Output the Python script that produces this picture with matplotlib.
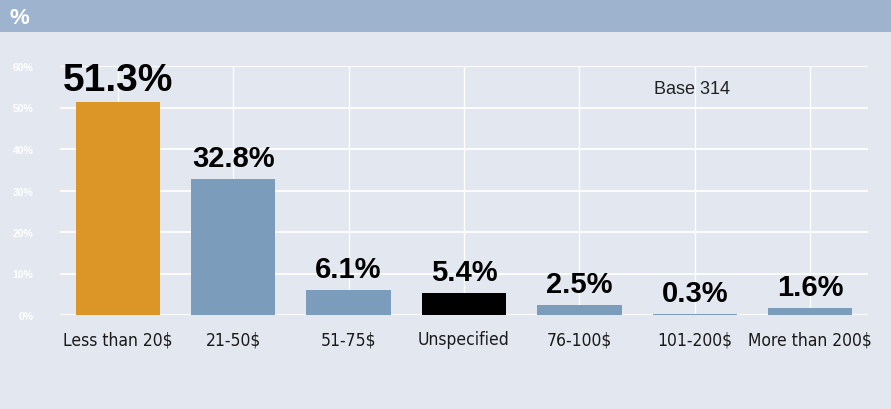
import matplotlib
matplotlib.use("Agg")
import matplotlib.pyplot as plt
import matplotlib.transforms as mtransforms

categories = ["Less than 20$", "21-50$", "51-75$", "Unspecified", "76-100$", "101-200$", "More than 200$"]
values = [51.3, 32.8, 6.1, 5.4, 2.5, 0.3, 1.6]
colors = ["#dc9527", "#7b9cbb", "#7b9cbb", "#000000", "#7b9cbb", "#7b9cbb", "#7b9cbb"]
yticks = [0, 10, 20, 30, 40, 50, 60]
base_text = "Base 314"

fig = plt.figure(figsize=(8.91, 4.10), dpi=100)
fig.patch.set_facecolor("#e3e8f0")
# header band
fig.patches.append(plt.Rectangle((0, 1 - 33/410), 1, 33/410, transform=fig.transFigure,
                                 facecolor="#9db3ce", edgecolor="none", zorder=0))
fig.text(10/891, 1 - 19/410, "%", color="white", fontsize=16, fontweight="bold",
         family="Liberation Sans", va="center", ha="left")

ax = fig.add_axes([60/891, (410-316)/410, (868-60)/891, (316-67)/410])
ax.set_facecolor("#e3e8f0")
x = list(range(len(categories)))
ax.bar(x, values, width=0.73, color=colors, zorder=3)
ax.set_xlim(-0.5, len(categories) - 0.5)
ax.set_ylim(0, 60)
ax.set_yticks(yticks)
ax.set_yticklabels([f"{t}%" for t in yticks], color="white", fontsize=7.5, fontweight="bold",
                   family="Liberation Sans")
ax.set_xticks(x)
ax.set_xticklabels(categories, fontsize=12.5, color="#1a1a1a", family="DejaVu Sans",
                   fontstretch="condensed")
ax.tick_params(axis="both", length=0)
ax.tick_params(axis="y", pad=19)
ax.tick_params(axis="x", pad=11)
for s in ax.spines.values():
    s.set_visible(False)
ax.grid(True, axis="y", color="white", linewidth=1.3, zorder=1)
ax.grid(True, axis="x", color="white", linewidth=0.9, zorder=1)
ax.set_axisbelow(True)

for i, v in enumerate(values):
    big = i == 0
    off = mtransforms.ScaledTranslation(0, (4 if big else 7) / 100, fig.dpi_scale_trans)
    ax.text(i, v, f"{v}%", ha="center", va="bottom", fontsize=28 if big else 21,
            fontweight="bold", family="Liberation Sans", color="black", zorder=5,
            transform=ax.transData + off)

ax.text(0.735, 0.91, base_text, transform=ax.transAxes, fontsize=13, color="#222222",
        family="Liberation Sans", ha="left", va="center")

fig.savefig("out.png", dpi=100, facecolor=fig.get_facecolor())
